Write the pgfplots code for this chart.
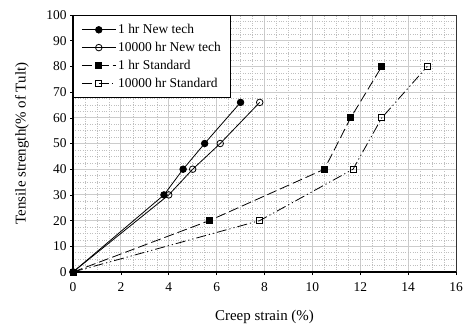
\documentclass[border=0pt]{standalone}
\usepackage{pgfplots}
\pgfplotsset{compat=1.18}
\usepackage{fontspec}
\setmainfont{Liberation Serif}
\begin{document}
\begin{tikzpicture}[x=1bp,y=1bp]
\path[use as bounding box] (0,0) rectangle (464,325);
\begin{axis}[
  at={(73bp,53bp)}, anchor=south west,
  scale only axis, width=383bp, height=257bp,
  xmin=0, xmax=16, ymin=0, ymax=100,
  xtick={0,2,...,16}, ytick={0,10,...,100},
  minor x tick num=3, minor y tick num=3,
  grid=both,
  major grid style={gray!40, line width=1pt},
  minor grid style={gray!50, dotted, line width=0.5pt},
  tick align=outside, tick pos=left,
  minor tick length=0pt,
  major tick length=3bp,
  tick style={black, line width=0.6pt},
  axis line style={draw=none},
  /pgf/number format/assume math mode=true,
  ticklabel style={font=\fontsize{13.5}{13.5}\selectfont},
  xticklabel style={yshift=-4bp},
  xlabel={Creep strain (\%)},
  ylabel={Tensile strength(\% of Tult)},
  label style={font=\fontsize{15}{15}\selectfont},
  xlabel style={at={(axis description cs:0.5,0)}, anchor=center, yshift=-45bp},
  ylabel style={at={(axis description cs:0,0.5)}, anchor=center, xshift=0bp, yshift=51bp},
  legend cell align=left,
  legend style={font=\fontsize{13.5}{17}\selectfont, draw=black, line width=0.8pt, fill=white, inner xsep=8bp, inner ysep=7bp, at={(0,1)}, anchor=north west, row sep=3bp},
  legend image code/.code={\draw[#1] (0bp,0bp) -- (17bp,0bp) plot coordinates {(17bp,0bp)} -- (34bp,0bp);},
  legend image post style={line width=0.8pt},
  clip=false,
]
\addplot[black, line width=0.8pt, mark=*, mark size=3.3pt, mark options={solid, fill=black}] coordinates {(0,0) (3.8,30) (4.6,40) (5.5,50) (7.0,66)};
\addlegendentry{1 hr New tech}
\addplot[black, line width=0.8pt, mark=o, mark size=3.3pt, mark options={solid, fill=white}] coordinates {(0,0) (4.0,30) (5.0,40) (6.15,50) (7.8,66)};
\addlegendentry{10000 hr New tech}
\addplot[black, line width=0.8pt, dash pattern=on 10pt off 4pt, mark=square*, mark size=3pt, mark options={solid, fill=black}] coordinates {(0,0) (5.7,20) (10.5,40) (11.6,60) (12.9,80)};
\addlegendentry{1 hr Standard}
\addplot[black, line width=0.8pt, dash pattern=on 10pt off 3pt on 1.2pt off 3pt on 1.2pt off 3pt, mark=square, mark size=3pt, mark options={solid, fill=white}] coordinates {(0,0) (7.8,20) (11.7,40) (12.9,60) (14.8,80)};
\addlegendentry{10000 hr Standard}
\draw[black, line width=1.6pt] (rel axis cs:0,1) -- (rel axis cs:0,0) -- (rel axis cs:1,0);
\draw[black!80, line width=0.8pt] (rel axis cs:0,1) -- (rel axis cs:1,1) -- (rel axis cs:1,0);
\end{axis}
\end{tikzpicture}
\end{document}
